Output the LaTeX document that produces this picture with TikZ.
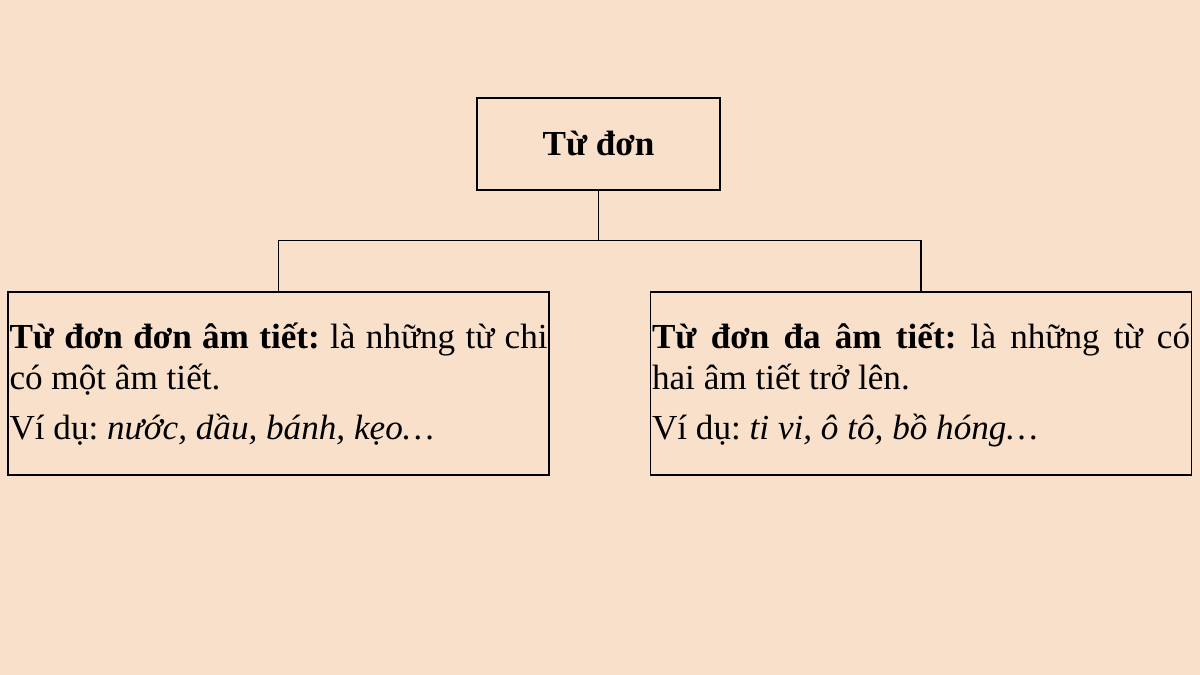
\documentclass[tikz,border=0pt]{standalone}
\usepackage{fontspec}
\setmainfont{Liberation Serif}
\usetikzlibrary{positioning}
\definecolor{peach}{RGB}{249,224,203}
\frenchspacing
\tikzset{% boxes and links
    rootbox/.style={draw, line width=1pt, minimum width=6.075cm, minimum height=2.3cm,
        font=\fontsize{25}{29}\selectfont\bfseries},
    leafbox/.style={draw, line width=1pt, minimum width=13.525cm, minimum height=4.575cm},
    leaftext/.style={inner sep=0pt, text width=13.45cm, align=justify,
        font=\fontsize{25}{29.2}\selectfont},
    link/.style={line width=0.9pt}
}

\begin{document}
\begin{tikzpicture}[x=0.025cm, y=-0.025cm]
		% background
		\fill[peach] (0,0) rectangle (1200,675);
	
		% boxes
		\node[rootbox] (root) at (598.5,144) {Từ đơn};
		\node[leafbox] (mono) at (278.5,383.5) {};
		\node[leafbox] (poly) at (921,383.5) {};
	
		% texts
		\node[leaftext, below right=0.78cm and 0.05cm of mono.north west] (monoText)
			{\textbf{Từ đơn đơn âm tiết:} là những từ chi\linebreak có một âm tiết.\par\vspace{0.22cm}Ví dụ: \textit{nước, dầu, bánh, kẹo…}};
		\node[leaftext, below right=0.78cm and 0.05cm of poly.north west] (polyText)
			{\textbf{Từ đơn đa âm tiết:} là những từ có\linebreak hai âm tiết trở lên.\par\vspace{0.22cm}Ví dụ: \textit{ti vi, ô tô, bồ hóng…}};
	
		% links
		\draw[link] (root.south) -- ++(0,50) coordinate (hub);
		\draw[link] (mono.north) |- (hub) -| (poly.north);
\end{tikzpicture}
\end{document}
